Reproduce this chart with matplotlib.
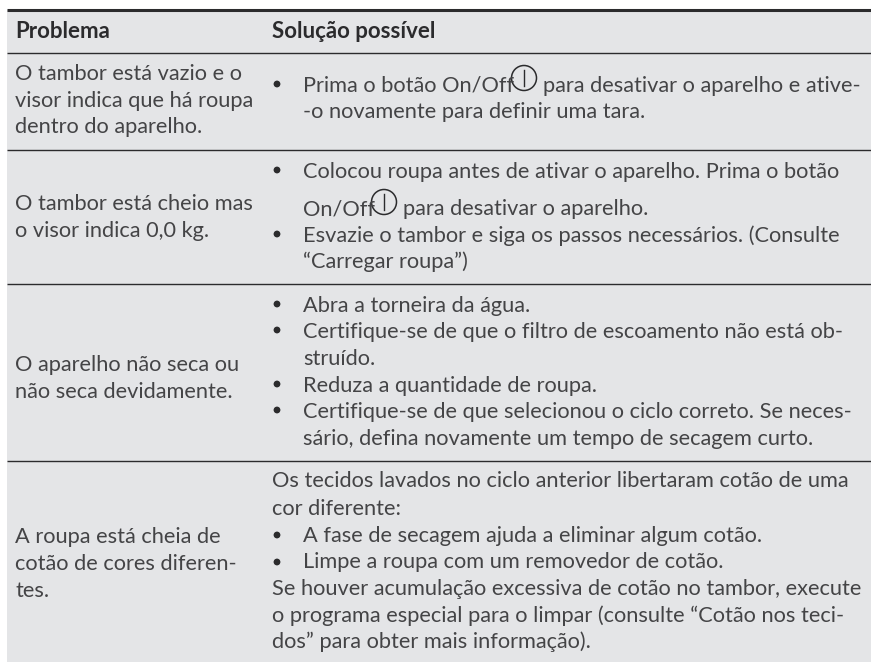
import matplotlib.pyplot as plt
from matplotlib.patches import Circle, Rectangle

plt.rcParams['font.family'] = ['Lato', 'DejaVu Sans']

BG = '#e4e5e7'
INK = '#444446'
DARK = '#2b2b2d'
FS = 15.7

# Table text, as (left, baseline y, text)
header = [(15, 'Problema'), (272, 'Solução possível')]
problems = [
    (80, 'O tambor está vazio e o'),
    (107, 'visor indica que há roupa'),
    (133, 'dentro do aparelho.'),
    (210, 'O tambor está cheio mas'),
    (237, 'o visor indica 0,0 kg.'),
    (371, 'O aparelho não seca ou'),
    (398, 'não seca devidamente.'),
    (543, 'A roupa está cheia de'),
    (570, 'cotão de cores diferen-'),
    (597, 'tes.'),
]
solutions = [
    (303, 92, 'Prima o botão On/Off'),
    (543, 92, 'para desativar o aparelho e ative-'),
    (303, 118, '-o novamente para definir uma tara.'),
    (303, 178, 'Colocou roupa antes de ativar o aparelho. Prima o botão'),
    (303, 215, 'On/Off'),
    (403, 215, 'para desativar o aparelho.'),
    (303, 242, 'Esvazie o tambor e siga os passos necessários. (Consulte'),
    (303, 268, '“Carregar roupa”)'),
    (303, 312, 'Abra a torneira da água.'),
    (303, 338, 'Certifique-se de que o filtro de escoamento não está ob-'),
    (303, 365, 'struído.'),
    (303, 392, 'Reduza a quantidade de roupa.'),
    (303, 418, 'Certifique-se de que selecionou o ciclo correto. Se neces-'),
    (303, 445, 'sário, defina novamente um tempo de secagem curto.'),
    (272, 487, 'Os tecidos lavados no ciclo anterior libertaram cotão de uma'),
    (272, 515, 'cor diferente:'),
    (303, 542, 'A fase de secagem ajuda a eliminar algum cotão.'),
    (303, 568, 'Limpe a roupa com um removedor de cotão.'),
    (272, 595, 'Se houver acumulação excessiva de cotão no tambor, execute'),
    (272, 622, 'o programa especial para o limpar (consulte “Cotão nos teci-'),
    (272, 648, 'dos” para obter mais informação).'),
]
bullets_y = [84, 170, 234, 304, 330, 384, 410, 535, 562]
power_icons = [(524, 78), (384, 202)]
rules_y = [53, 150, 284, 461]

fig = plt.figure(figsize=(8.71, 6.62), dpi=100)
ax = fig.add_axes([0, 0, 1, 1])
ax.set_xlim(0, 871)
ax.set_ylim(662, 0)
ax.axis('off')

ax.add_patch(Rectangle((7, 10), 864, 652, color=BG, lw=0))
ax.plot([7, 871], [10, 10], color=DARK, lw=2.2, solid_capstyle='butt')
for y in rules_y:
    ax.plot([7, 871], [y, y], color=DARK, lw=1.0, solid_capstyle='butt')

for x, t in header:
    ax.text(x, 38, t, fontsize=16, fontweight='bold', color=DARK, va='baseline')
for y, t in problems:
    ax.text(15, y, t, fontsize=FS, color=INK, va='baseline')
for x, y, t in solutions:
    ax.text(x, y, t, fontsize=FS, color=INK, va='baseline')
for y in bullets_y:
    ax.add_patch(Circle((277, y), 3.4, color=DARK, lw=0))
for x, y in power_icons:
    ax.add_patch(Circle((x, y), 12.5, fill=False, ec=DARK, lw=1.1))
    ax.plot([x, x], [y - 8, y + 8], color=DARK, lw=1.0)

fig.savefig('out.png', dpi=100)
